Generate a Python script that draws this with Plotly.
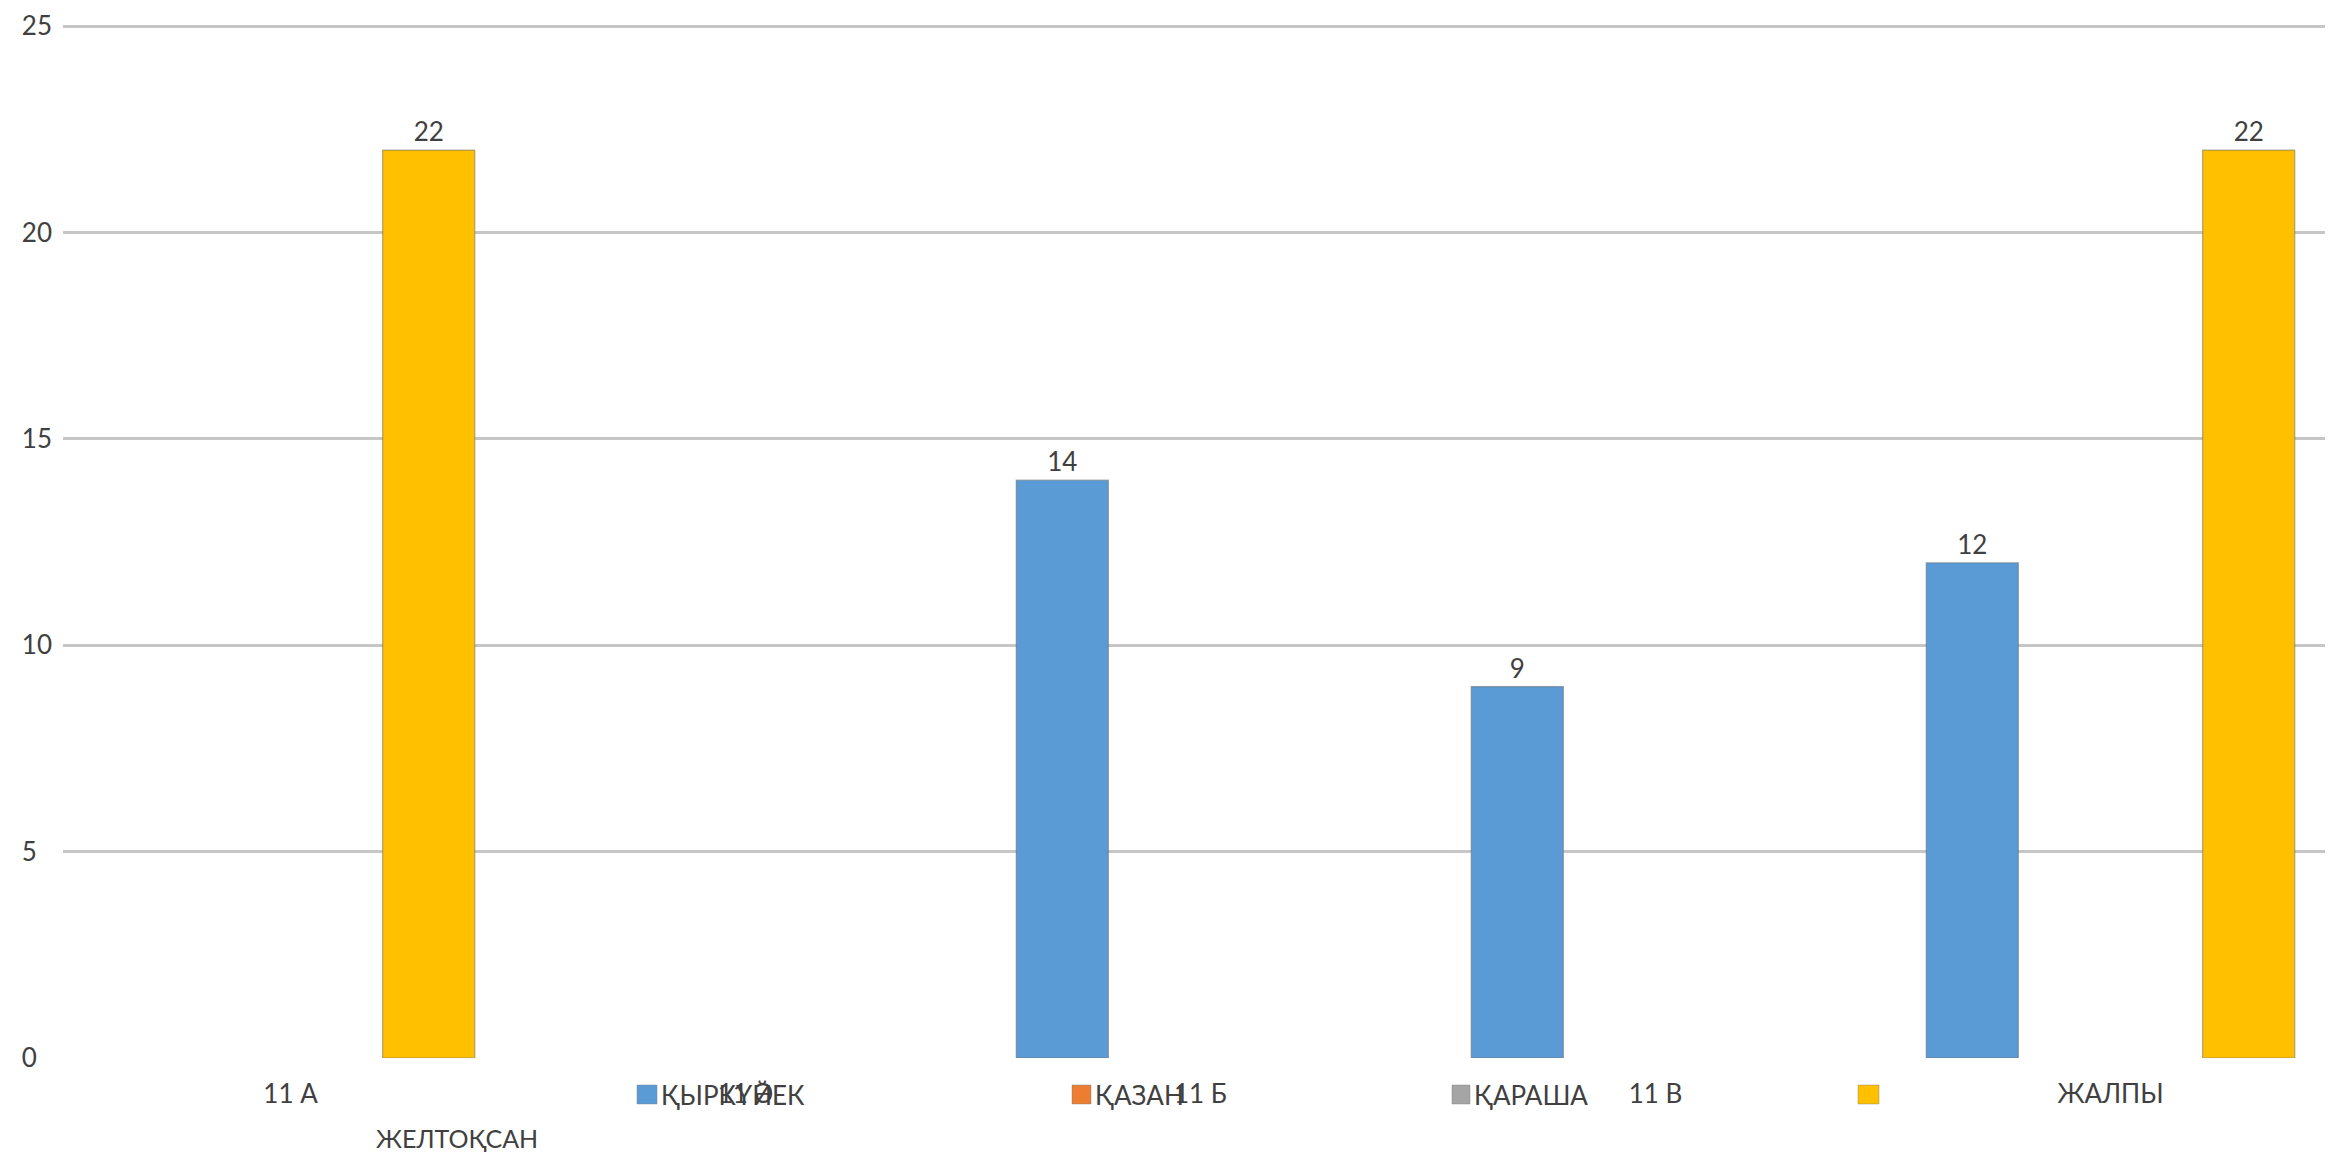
import plotly.graph_objects as go

categories = ["11 А", "11 Ә", "11 Б", "11 В", "ЖАЛПЫ"]
series_names = ["ҚЫРКҮЙЕК", "ҚАЗАН", "ҚАРАША", "ЖЕЛТОҚСАН"]
sep_vals = [None, None, 14, 9, 12]
oct_vals = [None, None, None, None, None]
nov_vals = [None, None, None, None, None]
dec_vals = [22, None, None, None, 22]
y_ticks = [0, 5, 10, 15, 20, 25]

colors = ["#5B9BD5", "#ED7D31", "#A5A5A5", "#FFC000"]
OFF = 8                      # default body margin of the html page
W, H = 2333 - OFF, 1153 - OFF
# plot area in page pixels: left 63, top 25, bottom 1058, right = window edge
L, T, B = 63 - OFF, 25 - OFF, H - (1058 - OFF)
R = 0
FONT = "Lato, Open Sans, sans-serif"
TXT = "#404040"
FS = 26

fig = go.Figure()
for name, vals, col in zip(series_names, [sep_vals, oct_vals, nov_vals, dec_vals], colors):
    fig.add_trace(go.Bar(
        x=categories, y=vals, name=name,
        marker=dict(color=col, line=dict(color="rgba(110,110,110,0.55)", width=1.2)),
        text=[("" if v is None else str(v)) for v in vals],
        textposition="outside", cliponaxis=False,
        textfont=dict(family=FONT, size=FS, color=TXT),
        showlegend=False,
    ))

pw = W - L - R
ph = H - T - B
def px(x):   # page pixel -> paper
    return (x - OFF - L) / pw
def py(y):
    return (H - B - (y - OFF)) / ph

# manual legend (matching the reference's broken layout)
sq = [(637, 657), (1072, 1091), (1452, 1470), (1858, 1879)]
shown_text = [True, True, True, False]
shapes = []
annotations = []
for (x0, x1), col, name, show in zip(sq, colors, series_names, shown_text):
    shapes.append(dict(type="rect", xref="paper", yref="paper",
                       x0=px(x0), x1=px(x1), y0=py(1104), y1=py(1085),
                       fillcolor=col, line=dict(color="rgba(120,120,120,0.4)", width=1)))
    if show:
        annotations.append(dict(xref="paper", yref="paper", x=px(x1 + 2), y=py(1095),
                                xanchor="left", yanchor="middle", showarrow=False,
                                text=name, font=dict(family=FONT, size=FS, color=TXT)))
annotations.append(dict(xref="paper", yref="paper", x=px(457), y=py(1138),
                        xanchor="center", yanchor="middle", showarrow=False,
                        text=series_names[3], font=dict(family=FONT, size=25, color=TXT)))

cat_w = 455
xmax = 4.5 - ((63 + 5 * cat_w) - 2333) / cat_w

fig.update_layout(
    width=W, height=H,
    margin=dict(l=L, r=R, t=T, b=B, pad=0),
    paper_bgcolor="white", plot_bgcolor="white",
    barmode="group", bargap=0.19, bargroupgap=0,
    font=dict(family=FONT, size=FS, color=TXT),
    xaxis=dict(range=[-0.5, xmax], showgrid=False, zeroline=False, showline=False,
               ticks="", ticklabelstandoff=18,
               tickfont=dict(family=FONT, size=FS, color=TXT)),
    yaxis=dict(range=[0, 25.03], tickvals=y_ticks,
               ticktext=[(str(v) + "\u2007") if v < 10 else str(v) for v in y_ticks],
               showgrid=True, gridcolor="#C6C6C6", gridwidth=3,
               zeroline=False, showline=False, ticks="", ticklabelstandoff=10,
               tickfont=dict(family=FONT, size=FS, color=TXT)),
    shapes=shapes, annotations=annotations,
    showlegend=False,
)

fig.write_html("out.html")
